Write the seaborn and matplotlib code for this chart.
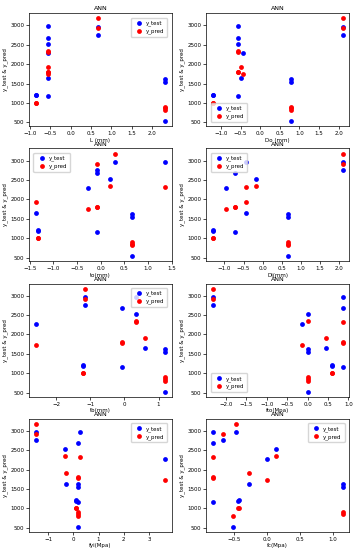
import matplotlib
matplotlib.use("Agg")
import matplotlib.pyplot as plt
import seaborn as sns
import pandas as pd

# target values for the test samples
y_test = [2970, 2680, 1170, 2760, 2960, 530, 1210, 1195, 1640, 2280, 2520, 1620, 1550]
y_pred = [2320, 1800, 1790, 2920, 3180, 810, 1000, 1005, 1920, 1740, 2340, 900, 860]

# standardized feature values for the same samples
L_mm   = [-0.55, -0.55, -0.55, 0.67, 0.67, 2.32, -0.85, -0.86, -0.55, -0.55, -0.55, 2.32, 2.32]
Do_mm  = [-0.57, -0.57, -0.57, 2.10, 2.10, 0.78, -1.20, -1.21, -0.50, -0.43, -0.57, 0.78, 0.78]
to_mm  = [1.37, -0.07, -0.07, -0.07, 0.30, 0.66, -1.32, -1.33, -1.38, -0.27, 0.19, 0.66, 0.66]
Di_mm  = [-0.43, -0.73, -0.73, 2.10, 2.10, 0.66, -1.30, -1.31, -0.43, -0.97, -0.17, 0.66, 0.66]
tb_mm  = [0.33, -0.08, -0.08, -1.15, -1.15, 1.20, -1.20, -1.21, 0.60, -2.60, 0.33, 1.20, 1.20]
fto    = [0.86, 0.86, 0.86, -2.33, -2.33, 0.0, 0.60, 0.59, 0.46, -0.13, 0.0, 0.0, 0.0]
fyi    = [0.25, 0.17, 0.20, -1.50, -1.50, 0.20, 0.10, 0.11, -0.28, 3.65, -0.33, 0.20, 0.20]
fc     = [-0.83, -0.83, -0.83, -0.68, -0.47, -0.52, -0.43, -0.44, -0.27, 0.0, 0.13, 1.15, 1.15]

features = [L_mm, Do_mm, to_mm, Di_mm, tb_mm, fto, fyi, fc]
xlabels = ["L (mm)", "Do (mm)", "to(mm)", "Di(mm)", "tb(mm)", "fto(Mpa)", "fyi(Mpa)", "fc(Mpa)"]
legend_locs = ["upper right", "lower left", "upper left", "upper left",
               "upper right", "lower left", "upper right", "upper right"]

plt.rcParams.update({
    "font.size": 4,
    "axes.titlesize": 4.5,
    "axes.labelsize": 4,
    "xtick.labelsize": 4,
    "ytick.labelsize": 4,
    "legend.fontsize": 4,
    "axes.linewidth": 0.5,
    "xtick.major.width": 0.5,
    "ytick.major.width": 0.5,
    "xtick.major.size": 2,
    "ytick.major.size": 2,
    "xtick.major.pad": 1.5,
    "ytick.major.pad": 1.5,
})

fig, axes = plt.subplots(4, 2, figsize=(3.54, 5.5), dpi=100)
fig.subplots_adjust(left=0.082, right=0.986, top=0.976, bottom=0.033,
                    wspace=0.24, hspace=0.195)

for ax, xv, xl, loc in zip(axes.flat, features, xlabels, legend_locs):
    df = pd.DataFrame({"x": xv, "y_test": y_test, "y_pred": y_pred})
    sns.scatterplot(data=df, x="x", y="y_test", color="blue", s=12, linewidth=0,
                    label="y_test", ax=ax)
    sns.scatterplot(data=df, x="x", y="y_pred", color="red", s=12, linewidth=0,
                    label="y_pred", ax=ax)
    ax.set_title("ANN", pad=2)
    ax.set_xlabel(xl, labelpad=1)
    ax.set_ylabel("y_test & y_pred", labelpad=1.5)
    ax.set_yticks([500, 1000, 1500, 2000, 2500, 3000])
    ax.legend(loc=loc, frameon=True, handletextpad=0.3, borderpad=0.5,
              labelspacing=0.4, markerscale=1.0, borderaxespad=0.8)

fig.savefig("out.png", dpi=100)
